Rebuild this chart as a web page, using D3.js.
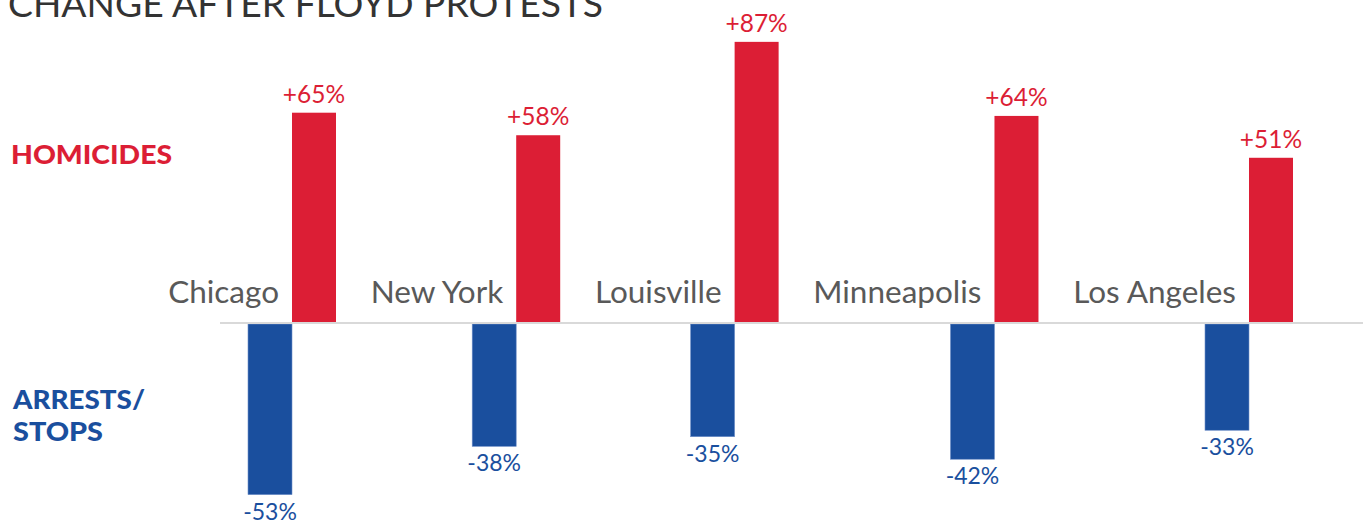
<!DOCTYPE html>
<html>
<head>
<meta charset="utf-8">
<script src="https://cdn.jsdelivr.net/npm/d3@7"></script>
<style>
  html, body { margin: 0; padding: 0; background: #fff; }
  svg { display: block; }
</style>
</head>
<body>
<svg id="chart"></svg>
<script>
// data
const cities = ["Chicago", "New York", "Louisville", "Minneapolis", "Los Angeles"];
const homicides = [65, 58, 87, 64, 51];
const arrests = [-53, -38, -35, -42, -33];

const WIDTH = 1363;
const HEIGHT = 525;
const BAR_W = 44;
const LABEL_PAD = 13;
const FIRST_X = 292, LAST_X = 1249;
const RED = "#dc1e35";
const BLUE = "#1a4f9e";
const GRAY = "#595959";
const FONT = "Lato, 'Noto Sans', sans-serif";

const svg = d3.select("#chart").attr("width", WIDTH).attr("height", HEIGHT);

const rows = cities.map((c, i) => ({ city: c, up: homicides[i], down: arrests[i] }));

// city names first, so the groups can be laid out from their widths
const names = svg.append("g").selectAll("text")
  .data(rows).enter().append("text")
  .attr("y", 303)
  .attr("text-anchor", "end")
  .attr("font-family", FONT)
  .attr("font-size", 31.5)
  .attr("fill", GRAY)
  .text(d => d.city);

const widths = names.nodes().map(n => n.getComputedTextLength());
// each group = name + pad + bar pair; spread the spare room evenly between groups
const fixed = d3.sum(widths.slice(1)) + (cities.length - 1) * (LABEL_PAD + BAR_W);
const gap = (LAST_X - FIRST_X - fixed) / (cities.length - 1);
const centers = [FIRST_X];
for (let i = 1; i < cities.length; i++) {
  centers.push(centers[i - 1] + BAR_W + gap + widths[i] + LABEL_PAD);
}

const x = d3.scaleOrdinal().domain(cities).range(centers);
const y = d3.scaleLinear().domain([0, 100]).range([322, 0]);
const zero = y(0);
const LINE_W = 2;

names.attr("x", d => x(d.city) - LABEL_PAD);

// title, cut at the top like the source
svg.append("text")
  .attr("x", 8)
  .attr("y", 17)
  .attr("font-family", FONT)
  .attr("font-size", 37)
  .attr("fill", "#333")
  .attr("textLength", 595)
  .attr("lengthAdjust", "spacingAndGlyphs")
  .text("CHANGE AFTER FLOYD PROTESTS");

// side headings
svg.append("text")
  .attr("x", 11).attr("y", 164)
  .attr("font-family", FONT).attr("font-weight", 900).attr("font-size", 27)
  .attr("fill", RED)
  .attr("textLength", 161).attr("lengthAdjust", "spacingAndGlyphs")
  .text("HOMICIDES");

const side = svg.append("text")
  .attr("font-family", FONT).attr("font-weight", 900).attr("font-size", 27)
  .attr("fill", BLUE);
side.append("tspan").attr("x", 13).attr("y", 409)
  .attr("textLength", 132).attr("lengthAdjust", "spacingAndGlyphs").text("ARRESTS/");
side.append("tspan").attr("x", 13).attr("y", 441)
  .attr("textLength", 90).attr("lengthAdjust", "spacingAndGlyphs").text("STOPS");

// homicide bars (up)
svg.append("g").selectAll("rect")
  .data(rows).enter().append("rect")
  .attr("x", d => x(d.city))
  .attr("y", d => y(d.up))
  .attr("width", BAR_W)
  .attr("height", d => zero - y(d.up))
  .attr("fill", RED);

// arrest bars (down), start below the zero line
svg.append("g").selectAll("rect")
  .data(rows).enter().append("rect")
  .attr("x", d => x(d.city) - BAR_W)
  .attr("y", zero + LINE_W)
  .attr("width", BAR_W)
  .attr("height", d => y(d.down) - zero)
  .attr("fill", BLUE)
  .attr("stroke", "#6f8fc8")
  .attr("stroke-width", 0.6);

// zero line
svg.append("line")
  .attr("x1", x(cities[0]) - 72).attr("x2", WIDTH)
  .attr("y1", zero + LINE_W / 2).attr("y2", zero + LINE_W / 2)
  .attr("stroke", "#d9d9d9")
  .attr("stroke-width", LINE_W);

// value labels
svg.append("g").selectAll("text")
  .data(rows).enter().append("text")
  .attr("x", d => x(d.city) + BAR_W / 2)
  .attr("y", d => y(d.up) - 10)
  .attr("text-anchor", "middle")
  .attr("font-family", FONT)
  .attr("font-size", 24.5)
  .attr("fill", RED)
  .text(d => "+" + d.up + "%");

svg.append("g").selectAll("text")
  .data(rows).enter().append("text")
  .attr("x", d => x(d.city) - BAR_W / 2)
  .attr("y", d => y(d.down) + LINE_W + 25)
  .attr("text-anchor", "middle")
  .attr("font-family", FONT)
  .attr("font-size", 23)
  .attr("fill", BLUE)
  .text(d => d.down + "%");
</script>
</body>
</html>
